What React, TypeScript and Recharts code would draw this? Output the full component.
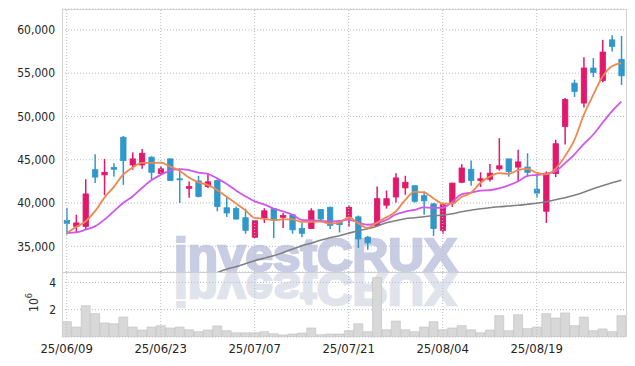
import React from 'react';
import { ComposedChart, Bar, Line, XAxis, YAxis, CartesianGrid, ReferenceLine } from 'recharts';

const dates = [
  '25/06/09', '25/06/10', '25/06/11', '25/06/12', '25/06/13', '25/06/16', '25/06/17', '25/06/18', '25/06/19', '25/06/20',
  '25/06/23', '25/06/24', '25/06/25', '25/06/26', '25/06/27', '25/06/30', '25/07/01', '25/07/02', '25/07/03', '25/07/04',
  '25/07/07', '25/07/08', '25/07/09', '25/07/10', '25/07/11', '25/07/14', '25/07/15', '25/07/16', '25/07/17', '25/07/18',
  '25/07/21', '25/07/22', '25/07/23', '25/07/24', '25/07/25', '25/07/28', '25/07/29', '25/07/30', '25/07/31', '25/08/01',
  '25/08/04', '25/08/05', '25/08/06', '25/08/07', '25/08/08', '25/08/11', '25/08/12', '25/08/13', '25/08/14', '25/08/18',
  '25/08/19', '25/08/20', '25/08/21', '25/08/22', '25/08/25', '25/08/26', '25/08/27', '25/08/28', '25/08/29', '25/09/01',
];

const opens = [
  38000, 37300, 37300, 43850, 43250, 44100, 47600, 44400, 44400, 45300,
  43400, 45100, 42800, 41700, 42550, 41900, 42600, 39450, 39350, 38300,
  36050, 38250, 39350, 38350, 38650, 37050, 37050, 39250, 39500, 37750,
  38400, 38400, 36050, 37400, 39750, 40700, 41750, 42000, 40850, 39900,
  36850, 40000, 42400, 43900, 42600, 42750, 43950, 45100, 44150, 44150,
  41600, 39050, 43400, 48850, 53850, 51550, 55600, 54150, 58850, 56600,
];
const highs = [
  39450, 38650, 42750, 45650, 45100, 44600, 47750, 45850, 46250, 45400,
  44250, 45150, 43950, 42500, 43150, 43450, 42700, 40750, 39600, 39350,
  38000, 39400, 39400, 38850, 38700, 37700, 39400, 39300, 39600, 38050,
  39700, 38550, 36200, 41900, 41450, 43450, 43150, 42050, 41350, 40000,
  39900, 42350, 44500, 44900, 43550, 44500, 47500, 45100, 46150, 45750,
  43250, 43650, 47300, 52150, 54250, 56850, 56750, 58850, 59400, 59300,
];
const lows = [
  36350, 36550, 36900, 42300, 40900, 43050, 42100, 43850, 43950, 42700,
  43250, 42550, 40000, 40600, 40650, 41750, 39050, 38400, 38100, 36450,
  36000, 37700, 35950, 37100, 36450, 36050, 37050, 37900, 37000, 36600,
  37250, 34800, 34600, 37300, 39350, 40050, 40950, 40050, 38650, 36200,
  36450, 39550, 42300, 42000, 41850, 42500, 43750, 43050, 42500, 43050,
  40600, 37700, 43000, 46750, 52250, 51050, 54550, 53950, 57500, 53650,
];
const closes = [
  37650, 37700, 41050, 43000, 43550, 43900, 44900, 45100, 45750, 43550,
  43950, 42600, 42750, 41900, 40750, 42450, 39600, 38850, 38150, 36850,
  37950, 39100, 38050, 38550, 36900, 36500, 39100, 38150, 37400, 37500,
  39500, 35850, 35400, 40500, 40500, 42900, 42400, 40200, 40250, 37050,
  39800, 42300, 44050, 42600, 42800, 43450, 44300, 43650, 44750, 43550,
  41150, 43450, 46850, 51950, 52900, 55600, 55100, 57450, 58100, 54700,
];

const ma5 = [
  36530, 37230, 37870, 39030, 40600, 41840, 43280, 44090, 44640, 44640,
  44660, 44200, 43730, 42950, 42400, 42100, 41500, 40720, 39960, 39180,
  38280, 38180, 38020, 38110, 38120, 37830, 37830, 37850, 37620, 37730,
  38330, 37680, 37120, 37740, 38340, 39020, 40330, 41290, 41240, 40560,
  39940, 39930, 40700, 41170, 42310, 43050, 43450, 43370, 43790, 43940,
  43480, 43310, 43950, 45390, 47260, 50150, 52470, 54580, 55810, 56170,
];
const ma10 = [
  36530, 36600, 36920, 37300, 38070, 39030, 40000, 40760, 41730, 42620,
  43250, 43740, 43910, 43800, 43520, 43380, 42850, 42220, 41460, 40790,
  40190, 39840, 39370, 39040, 38650, 38050, 38000, 37940, 37860, 37930,
  38080, 37750, 37490, 37680, 38040, 38680, 39000, 39210, 39490, 39450,
  39480, 40130, 40990, 41200, 41440, 41490, 41690, 42030, 42480, 43130,
  43260, 43380, 43660, 44590, 45600, 46810, 47890, 49270, 50600, 51720,
];
const ma60 = [
  null, null, null, null, null, null, null, null, null, null,
  null, null, null, null, null, null, 31950, 32350, 32640, 32990,
  33340, 33620, 33910, 34260, 34660, 35070, 35360, 35700, 35990, 36220,
  36510, 36800, 37030, 37320, 37720, 37950, 38190, 38300, 38420, 38530,
  38610, 38760, 38990, 39170, 39340, 39460, 39570, 39650, 39740, 39860,
  39980, 40150, 40380, 40610, 40900, 41250, 41650, 42000, 42340, 42630,
];

const volumes = [
  1120000, 730000, 2290000, 1710000, 1030000, 970000, 1460000, 730000, 510000, 730000,
  830000, 660000, 730000, 530000, 390000, 510000, 810000, 460000, 310000, 310000,
  310000, 390000, 240000, 150000, 220000, 290000, 660000, 170000, 220000, 220000,
  460000, 970000, 390000, 4340000, 530000, 1170000, 530000, 390000, 730000, 1120000,
  530000, 660000, 830000, 530000, 310000, 510000, 1560000, 460000, 1630000, 610000,
  730000, 1710000, 1390000, 1760000, 830000, 1460000, 460000, 590000, 390000, 1560000,
];

const priceTicks = [35000, 40000, 45000, 50000, 55000, 60000];
const volumeTicks = [2000000, 4000000];
const dateTicks = ['25/06/09', '25/06/23', '25/07/07', '25/07/21', '25/08/04', '25/08/19'];

const UP = '#e2186b';
const DOWN = '#3097cb';
const GRID = '#b6bacb';
const FONT = "'DejaVu Sans Condensed', 'DejaVu Sans', sans-serif";
const MARK_FONT = "'Liberation Sans', Arial, sans-serif";

const rows = dates.map((date, i) => ({
  date,
  open: opens[i],
  high: highs[i],
  low: lows[i],
  close: closes[i],
  range: [lows[i], highs[i]],
  ma5: ma5[i],
  ma10: ma10[i],
  ma60: ma60[i],
  volume: volumes[i],
}));

const Candle = (props: any) => {
  const { x, y, width, height, payload } = props;
  const { open, close, high, low } = payload;
  const perUnit = height / (high - low);
  const cx = x + width / 2;
  const yOpen = y + (high - open) * perUnit;
  const yClose = y + (high - close) * perUnit;
  const color = close >= open ? UP : DOWN;
  const top = Math.min(yOpen, yClose);
  const h = Math.max(Math.abs(yOpen - yClose), 1);
  return (
    <g>
      <line x1={cx} x2={cx} y1={y} y2={y + height} stroke={color} strokeWidth={1.5} />
      <rect x={cx - 2.7} y={top} width={5.4} height={h} fill={color} stroke={color} strokeWidth={0.8} />
    </g>
  );
};

const VolumeUnit = (props: any) => {
  const { viewBox } = props;
  const cx = viewBox.x + 34;
  const cy = viewBox.y + viewBox.height / 2 - 2;
  return (
    <text x={cx} y={cy} transform={`rotate(-90 ${cx} ${cy})`} textAnchor="middle" dominantBaseline="central" fontSize={12} fill="#333">
      10<tspan dy={-5} fontSize={9}>6</tspan>
    </text>
  );
};

const tickStyle = { fontSize: 12, fill: '#262626' };

export default function App() {
  return (
    <div style={{ position: 'absolute', left: 0, top: 0, width: 635, height: 366, background: '#fff', fontFamily: FONT }}>
      {/* watermark and its mirror image, behind the charts */}
      <svg width={635} height={366} style={{ position: 'absolute', left: 0, top: 0 }}>
        <text x={174} y={271} fontFamily={MARK_FONT} fontWeight="bold" fontSize={47}
          textLength={283} lengthAdjust="spacingAndGlyphs" fill="#c8cde3" stroke="#c8cde3" strokeWidth={2.4}>investCRUX</text>
        <text x={174} y={271} fontFamily={MARK_FONT} fontWeight="bold" fontSize={47}
          textLength={283} lengthAdjust="spacingAndGlyphs" fill="#e1e3ec" stroke="#e1e3ec" strokeWidth={2.4}
          transform="translate(0 544) scale(1 -1)">investCRUX</text>
      </svg>

      <div style={{ position: 'absolute', left: 0, top: 0 }}>
        <ComposedChart width={635} height={272} data={rows} margin={{ top: 9, right: 9, bottom: 0, left: 0 }}>
          <CartesianGrid vertical={false} stroke={GRID} strokeDasharray="1 2" />
          <XAxis dataKey="date" hide />
          <YAxis width={62} domain={[32030, 62420]} ticks={priceTicks} allowDataOverflow axisLine={false} tickLine={false}
            tickSize={0} tickMargin={7} tick={tickStyle} tickFormatter={(v: number) => v.toLocaleString('en-US')} />
          {dateTicks.map((d) => (
            <ReferenceLine key={d} x={d} stroke={GRID} strokeDasharray="1 2" />
          ))}
          <Bar dataKey="range" shape={Candle} isAnimationActive={false} />
          <Line type="monotone" dataKey="ma60" stroke="#808080" strokeWidth={1.6} dot={false} isAnimationActive={false} />
          <Line type="monotone" dataKey="ma10" stroke="#d157ec" strokeWidth={1.8} dot={false} isAnimationActive={false} />
          <Line type="monotone" dataKey="ma5" stroke="#f0874f" strokeWidth={1.8} dot={false} isAnimationActive={false} />
        </ComposedChart>
      </div>

      <div style={{ position: 'absolute', left: 0, top: 272 }}>
        <ComposedChart width={635} height={94} data={rows} margin={{ top: 0, right: 9, bottom: 0, left: 0 }} barCategoryGap="4%">
          <CartesianGrid vertical={false} stroke={GRID} strokeDasharray="1 2" />
          <XAxis dataKey="date" ticks={dateTicks} interval={0} height={29} axisLine={false} tickLine={false}
            tickSize={0} tickMargin={7} tick={{ fontSize: 13, fill: '#262626' }} />
          <YAxis width={62} domain={[0, 4760000]} ticks={volumeTicks} allowDataOverflow axisLine={false} tickLine={false}
            tickSize={0} tickMargin={6} tick={tickStyle} tickFormatter={(v: number) => String(v / 1000000)}
            label={{ content: VolumeUnit }} />
          {dateTicks.map((d) => (
            <ReferenceLine key={d} x={d} stroke={GRID} strokeDasharray="1 2" />
          ))}
          <Bar dataKey="volume" fill="#d8d8d8" stroke="#c0c0c0" strokeWidth={0.6} isAnimationActive={false} />
        </ComposedChart>
      </div>

      <div style={{ position: 'absolute', left: 62, top: 9, width: 565, height: 328, boxSizing: 'border-box',
        borderLeft: '1px solid #d3d3d3', borderTop: '1px solid #d3d3d3', borderRight: '1px solid #d3d3d3', pointerEvents: 'none' }} />
      <div style={{ position: 'absolute', left: 62, top: 272, width: 565, height: 1, background: '#cfcfcf', pointerEvents: 'none' }} />
    </div>
  );
}
